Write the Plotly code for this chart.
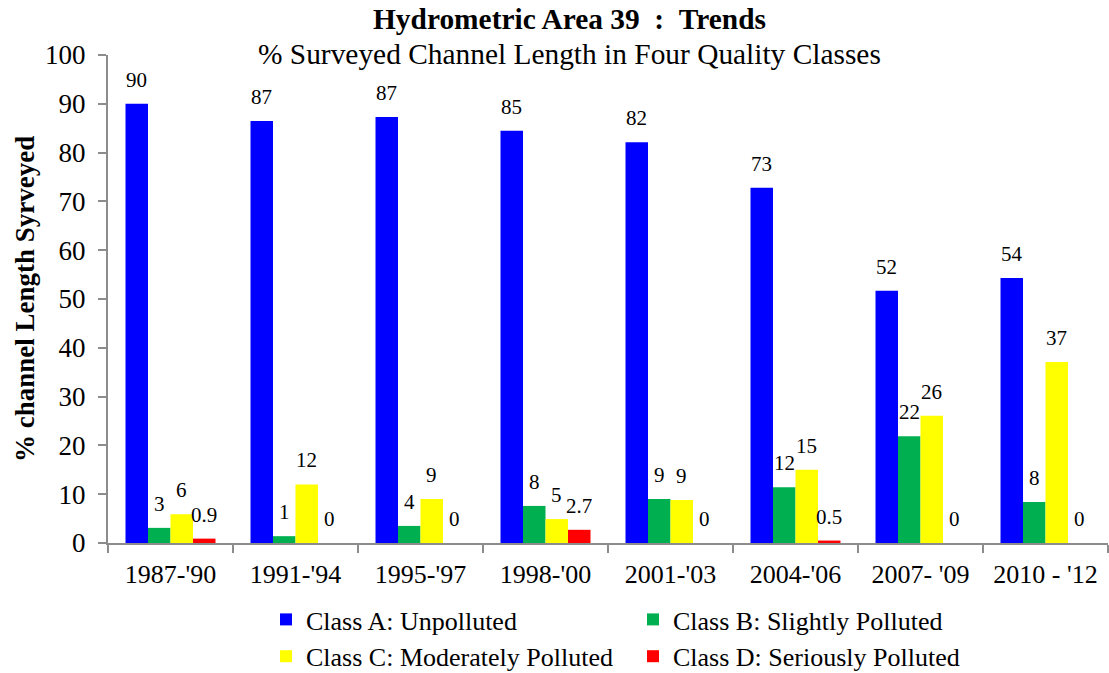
import plotly.graph_objects as go

periods = ["1987-'90", "1991-'94", "1995-'97", "1998-'00", "2001-'03", "2004-'06", "2007- '09", "2010 - '12"]

class_a = [90.0, 86.5, 87.3, 84.5, 82.1, 72.8, 51.7, 54.3]
class_b = [3.1, 1.4, 3.5, 7.6, 9.0, 11.4, 21.9, 8.4]
class_c = [5.9, 12.0, 9.0, 4.9, 8.8, 15.0, 26.1, 37.1]
class_d = [0.9, 0.0, 0.0, 2.7, 0.0, 0.5, 0.0, 0.0]

labels_a = ["90", "87", "87", "85", "82", "73", "52", "54"]
labels_b = ["3", "1", "4", "8", "9", "12", "22", "8"]
labels_c = ["6", "12", "9", "5", "9", "15", "26", "37"]
labels_d = ["0.9", "0", "0", "2.7", "0", "0.5", "0", "0"]

series_names = ["Class A: Unpolluted", "Class B: Slightly Polluted",
                "Class C: Moderately Polluted", "Class D: Seriously Polluted"]
series_values = [class_a, class_b, class_c, class_d]
series_labels = [labels_a, labels_b, labels_c, labels_d]
colors = ["#0000FF", "#00B050", "#FFFF00", "#FF0000"]

title_text = "<b>Hydrometric Area 39&nbsp;&nbsp;:&nbsp;&nbsp;Trends</b>"
subtitle_text = "% Surveyed Channel Length in Four Quality Classes"
y_title = "<b>% channel Length Syrveyed</b>"

FONT = "Liberation Serif, Times New Roman, serif"
BARGAP = 0.28
AXIS_GRAY = "#8c8c8c"
W, H = 1109, 673
ML, MR, MT, MB = 108, 1, 55, 130
plot_w, plot_h = W - ML - MR, H - MT - MB

fig = go.Figure()
for name, vals, col in zip(series_names, series_values, colors):
    fig.add_trace(go.Bar(x=periods, y=vals, name=name,
                         marker=dict(color=col, line=dict(width=0))))

n = len(series_values)
bw = (1 - BARGAP) / n
annotations = []
for i, (vals, labs) in enumerate(zip(series_values, series_labels)):
    for j, (v, t) in enumerate(zip(vals, labs)):
        annotations.append(dict(
            x=j + (i - (n - 1) / 2) * bw, y=v, xref="x", yref="y",
            text=t, showarrow=False, yanchor="bottom", yshift=10,
            font=dict(family=FONT, size=21, color="black")))

# title lines (pixel centres converted to paper fractions)
title_cx = (569 - ML) / plot_w
annotations.append(dict(text=title_text, x=title_cx, y=1 + (MT - 19) / plot_h,
                        xref="paper", yref="paper", xanchor="center", yanchor="middle",
                        showarrow=False, font=dict(family=FONT, size=29.4, color="black")))
annotations.append(dict(text=subtitle_text, x=title_cx, y=1 + (MT - 54) / plot_h,
                        xref="paper", yref="paper", xanchor="center", yanchor="middle",
                        showarrow=False, font=dict(family=FONT, size=29.4, color="black")))
# y-axis title
annotations.append(dict(text=y_title, x=(25 - ML) / plot_w, y=0.5, textangle=-90,
                        xref="paper", yref="paper", xanchor="center", yanchor="middle",
                        showarrow=False, font=dict(family=FONT, size=27, color="black")))

fig.update_layout(
    width=W, height=H,
    margin=dict(l=ML, r=MR, t=MT, b=MB, autoexpand=False),
    paper_bgcolor="white", plot_bgcolor="white",
    barmode="group", bargap=BARGAP, bargroupgap=0,
    font=dict(family=FONT, size=26, color="black"),
    xaxis=dict(
        type="category", showline=True, linecolor=AXIS_GRAY, linewidth=2,
        ticks="outside", tickson="boundaries", ticklen=8, tickcolor=AXIS_GRAY, tickwidth=2,
        showgrid=False, automargin=False, ticklabelstandoff=7,
        tickfont=dict(family=FONT, size=26, color="black")),
    yaxis=dict(
        range=[0, 100], dtick=10, showline=True, linecolor=AXIS_GRAY, linewidth=2,
        ticks="outside", ticklen=8, tickcolor=AXIS_GRAY, tickwidth=2,
        showgrid=False, zeroline=False, ticklabelstandoff=7, automargin=False,
        tickfont=dict(family=FONT, size=27, color="black")),
    legend=dict(
        orientation="h", xref="container", yref="container",
        x=266 / W, xanchor="left", y=1 - 596 / H, yanchor="top",
        entrywidth=322, entrywidthmode="pixels", traceorder="normal",
        font=dict(family=FONT, size=26, color="black"), tracegroupgap=0),
    annotations=annotations,
)

fig.write_html("out.html", config={"displayModeBar": False},
               post_script="document.body.style.margin='0';document.body.style.overflow='hidden';")
